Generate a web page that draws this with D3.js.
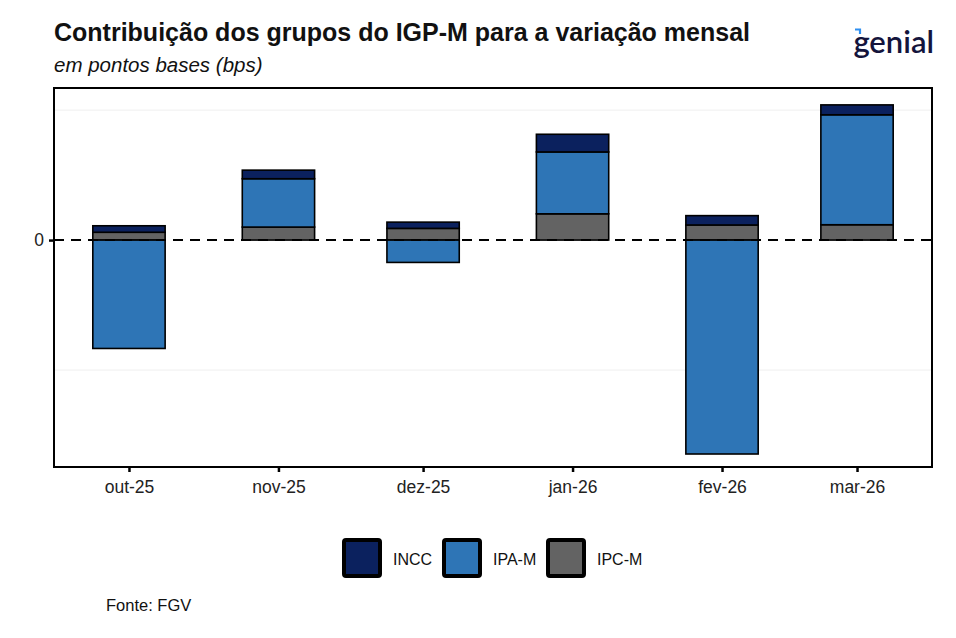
<!DOCTYPE html>
<html>
<head>
<meta charset="utf-8">
<script src="https://cdn.jsdelivr.net/npm/d3@7"></script>
<style>
  body { margin: 0; background: #fff; }
  text { font-family: "Liberation Sans", Arial, sans-serif; }
</style>
</head>
<body>
<script>
// months (first day) and contributions in bps
var months = ["2025-10-01", "2025-11-01", "2025-12-01", "2026-01-01", "2026-02-01", "2026-03-01"];
var monthLabels = ["out-25", "nov-25", "dez-25", "jan-26", "fev-26", "mar-26"];
var incc = [2.5, 3.3, 2.4, 6.8, 3.6, 3.8];
var ipa = [-41.7, 18.6, -8.6, 23.8, -82.3, 42.3];
var ipc = [3.0, 5.0, 4.5, 10.1, 5.8, 5.9];
var groups = ["IPC-M", "IPA-M", "INCC"];
var legendOrder = ["INCC", "IPA-M", "IPC-M"];
var gridValues = [-50, 50];

var colors = { "INCC": "#0b215e", "IPA-M": "#2e75b6", "IPC-M": "#636363" };

var W = 956, H = 638;
var pLeft = 54, pRight = 932, pTop = 88, pBottom = 467;
var day = 864e5;

var parse = d3.timeParse("%Y-%m-%d");
var rows = months.map(function(m, i) {
  return { date: parse(m), label: monthLabels[i], "INCC": incc[i], "IPA-M": ipa[i], "IPC-M": ipc[i] };
});

var svg = d3.select("body").append("svg")
  .attr("width", W).attr("height", H);

svg.append("rect").attr("width", W).attr("height", H).attr("fill", "#fff");

var first = rows[0].date, last = rows[rows.length - 1].date;
var x = d3.scaleTime()
  .domain([new Date(+first - 15.55 * day), new Date(+last + 15.55 * day)])
  .range([pLeft, pRight]);

var y = d3.scaleLinear().domain([-87.3, 58.5]).range([pBottom, pTop]);

// faint grid
svg.selectAll(".grid").data(gridValues).enter().append("line")
  .attr("x1", pLeft).attr("x2", pRight + 1)
  .attr("y1", function(d) { return y(d); }).attr("y2", function(d) { return y(d); })
  .attr("stroke", "#efefef").attr("stroke-width", 1);

var stack = d3.stack().keys(groups).offset(d3.stackOffsetDiverging);
var series = stack(rows);

var half = 7.5 * day;
svg.append("g").selectAll("g").data(series).enter().append("g")
  .attr("fill", function(s) { return colors[s.key]; })
  .selectAll("rect").data(function(s) { return s; }).enter().append("rect")
  .attr("x", function(d) { return x(new Date(+d.data.date - half)); })
  .attr("width", function(d) { return x(new Date(+d.data.date + half)) - x(new Date(+d.data.date - half)); })
  .attr("y", function(d) { return y(Math.max(d[0], d[1])); })
  .attr("height", function(d) { return Math.abs(y(d[0]) - y(d[1])); })
  .attr("stroke", "#000").attr("stroke-width", 1.6);

// dashed zero line
svg.append("line")
  .attr("x1", pLeft).attr("x2", pRight)
  .attr("y1", y(0)).attr("y2", y(0))
  .attr("stroke", "#000").attr("stroke-width", 2)
  .attr("stroke-dasharray", "10,7");

// panel border
svg.append("rect")
  .attr("x", pLeft).attr("y", pTop)
  .attr("width", pRight - pLeft).attr("height", pBottom - pTop)
  .attr("fill", "none").attr("stroke", "#000").attr("stroke-width", 2);

// axes
var xAxis = svg.append("g").attr("transform", "translate(0," + pBottom + ")")
  .call(d3.axisBottom(x).tickValues(rows.map(function(r) { return r.date; }))
    .tickFormat(function(d, i) { return monthLabels[i]; })
    .tickSize(5).tickPadding(9));
xAxis.select(".domain").remove();
xAxis.selectAll("line").attr("stroke", "#000").attr("stroke-width", 2.5);
xAxis.selectAll("text").attr("font-size", 17.5).attr("fill", "#222")
  .style("font-family", "'Liberation Sans', Arial, sans-serif");

var yAxis = svg.append("g").attr("transform", "translate(" + pLeft + ",0)")
  .call(d3.axisLeft(y).tickValues([0]).tickSize(5).tickPadding(5));
yAxis.select(".domain").remove();
yAxis.selectAll("line").attr("stroke", "#000").attr("stroke-width", 2.5);
yAxis.selectAll("text").attr("font-size", 17.5).attr("fill", "#222")
  .style("font-family", "'Liberation Sans', Arial, sans-serif");

// titles
svg.append("text").attr("x", 54).attr("y", 41)
  .attr("font-size", 25).attr("font-weight", "bold").attr("fill", "#111")
  .text("Contribuição dos grupos do IGP-M para a variação mensal");
svg.append("text").attr("x", 54).attr("y", 72)
  .attr("font-size", 20.5).attr("font-style", "italic").attr("fill", "#111")
  .text("em pontos bases (bps)");

// logo
svg.append("text").attr("x", 934).attr("y", 53).attr("text-anchor", "end")
  .attr("font-size", 31).attr("font-weight", 600).attr("fill", "#14143c")
  .style("font-family", "Lato, sans-serif")
  .text("genial");
svg.append("path").attr("d", "M855,29.5 L860,29.5 L860,34")
  .attr("fill", "none").attr("stroke", "#2f8ff0").attr("stroke-width", 2.2);

// legend
var legendX = [342, 442, 546];
var lg = svg.append("g").selectAll("g").data(legendOrder).enter().append("g")
  .attr("transform", function(d, i) { return "translate(" + legendX[i] + ",540)"; });
lg.append("rect").attr("x", 2).attr("y", 0).attr("width", 36).attr("height", 36)
  .attr("rx", 2)
  .attr("fill", function(d) { return colors[d]; })
  .attr("stroke", "#000").attr("stroke-width", 4);
lg.append("text").attr("x", 51).attr("y", 25)
  .attr("font-size", 16).attr("fill", "#111")
  .text(function(d) { return d; });

// source
svg.append("text").attr("x", 106).attr("y", 611)
  .attr("font-size", 16.5).attr("fill", "#111")
  .text("Fonte: FGV");
</script>
</body>
</html>
